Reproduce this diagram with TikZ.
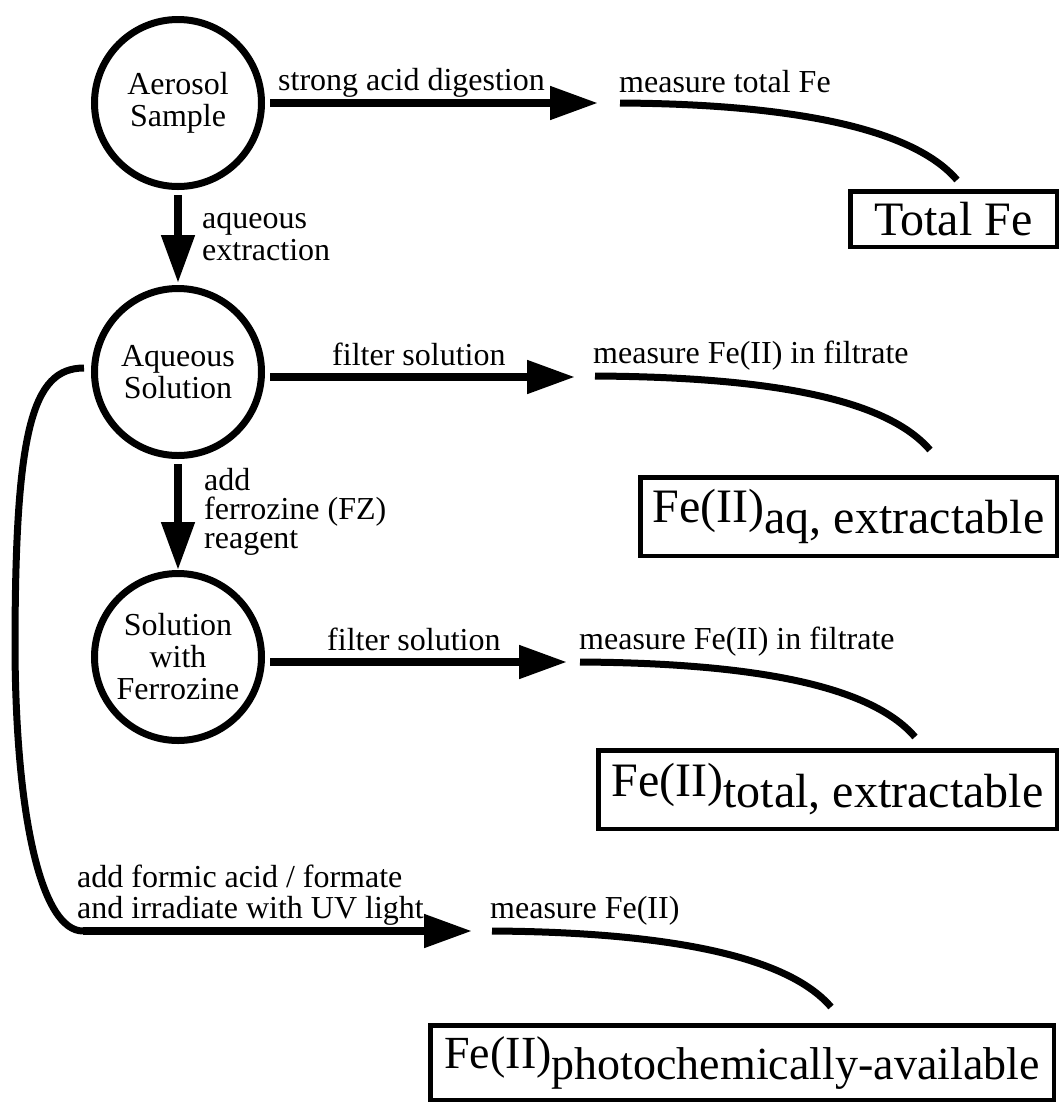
\documentclass[tikz,border=0pt]{standalone}
\usepackage{fontspec}
\setmainfont{Liberation Serif}
\usetikzlibrary{arrows.meta}

\def\labelsize{\fontsize{32}{32}\selectfont}
\def\fzsize{\fontsize{32}{29}\selectfont}
\def\uvsize{\fontsize{32}{31}\selectfont}
\def\resultsize{\fontsize{48}{48}\selectfont}
\def\photosize{\fontsize{46}{46}\selectfont}
\def\sublower{-11pt}

\tikzset{
  stage/.style={circle, draw, line width=7pt, minimum size=167pt, inner sep=0pt, align=center, font=\labelsize},
  result/.style={draw, line width=4.5pt, inner sep=0pt, font=\resultsize},
  lbl/.style={inner sep=0pt, anchor=base west, align=left, font=\labelsize},
  flow/.style={line width=8pt, -{Triangle[length=48pt,width=32pt]}},
  lead/.style={line width=7pt}
}

\begin{document}
\begin{tikzpicture}[x=1pt, y=-1pt]
  \useasboundingbox (0,0) rectangle (1059,1104);

  % sample stages
  \node[stage] (aer) at (178,103) {Aerosol\\Sample};
  \node[stage] (aq) at (178,372) {Aqueous\\Solution};
  \node[stage] (fz) at (178,657) {Solution\\with\\Ferrozine};

  % results
  \node[result, minimum width=206.5pt, minimum height=55.5pt] (tot) at (953.5,219) {Total Fe};
  \node[result, minimum width=416.5pt, minimum height=78.5pt] (aqbox) at (848.5,516.5) {Fe(II)\raisebox{\sublower}{aq, extractable}};
  \node[result, minimum width=458.5pt, minimum height=78.5pt] (totbox) at (827.5,789.5) {Fe(II)\raisebox{\sublower}{total, extractable}};
  \node[result, font=\photosize, minimum width=623.5pt, minimum height=74.5pt] (photobox) at (742,1062.5) {Fe(II)\raisebox{\sublower}{photochemically-available}};

  % arrow tips and starts of the measuring lines
  \coordinate (t1) at (598,103);
  \coordinate (s1) at (620,103);
  \coordinate (t2) at (575,377);
  \coordinate (s2) at (595,376);
  \coordinate (t3) at (567,662);
  \coordinate (s3) at (580,662);
  \coordinate (t4) at (472,931);
  \coordinate (s4) at (492,931);
  \coordinate (bend) at (83,931);

  % steps
  \draw[flow, shorten <=5pt] (aer.east) -- (t1);
  \draw[flow, shorten <=5pt, shorten >=2pt] (aer.south) -- (aq.north);
  \draw[flow, shorten <=5pt] (aq.east |- t2) -- (t2);
  \draw[flow, shorten <=5pt] (aq.south) -- (fz.north);
  \draw[flow, shorten <=5pt] (fz.east |- t3) -- (t3);
  \draw[lead] ([xshift=-7pt,yshift=4pt]aq.west) .. controls (32,368) and (15,430) .. (15,650)
    .. controls (16,820) and (42,931) .. (bend);
  \draw[flow] (bend) -- (t4);

  % measuring lines
  \draw[lead] (s1) .. controls +(160,1) and +(-47,-55) .. ([xshift=3.5pt,yshift=9pt]tot.north);
  \draw[lead] (s2) .. controls +(160,1) and +(-47,-55) .. ([xshift=81.5pt,yshift=25pt]aqbox.north);
  \draw[lead] (s3) .. controls +(160,1) and +(-47,-55) .. ([xshift=87.5pt,yshift=11pt]totbox.north);
  \draw[lead] (s4) .. controls +(160,1) and +(-47,-55) .. ([xshift=89pt,yshift=16pt]photobox.north);

  % labels (base = last line)
  \node[lbl] (digest) at (278,90) {strong acid digestion};
  \node[lbl] (mtot) at (619,92) {measure total Fe};
  \node[lbl] (aqx) at (202,260) {aqueous\\extraction};
  \node[lbl] (filt1) at (332,365) {filter solution};
  \node[lbl] (maq) at (593,363) {measure Fe(II) in filtrate};
  \node[lbl, font=\fzsize] (addfz) at (204,548) {add\\ferrozine (FZ)\\reagent};
  \node[lbl] (filt2) at (327,650) {filter solution};
  \node[lbl] (mfz) at (579,649) {measure Fe(II) in filtrate};
  \node[lbl, font=\uvsize] (formic) at (77,918) {add formic acid / formate\\and irradiate with UV light};
  \node[lbl] (mphoto) at (490,918) {measure Fe(II)};
\end{tikzpicture}
\end{document}
